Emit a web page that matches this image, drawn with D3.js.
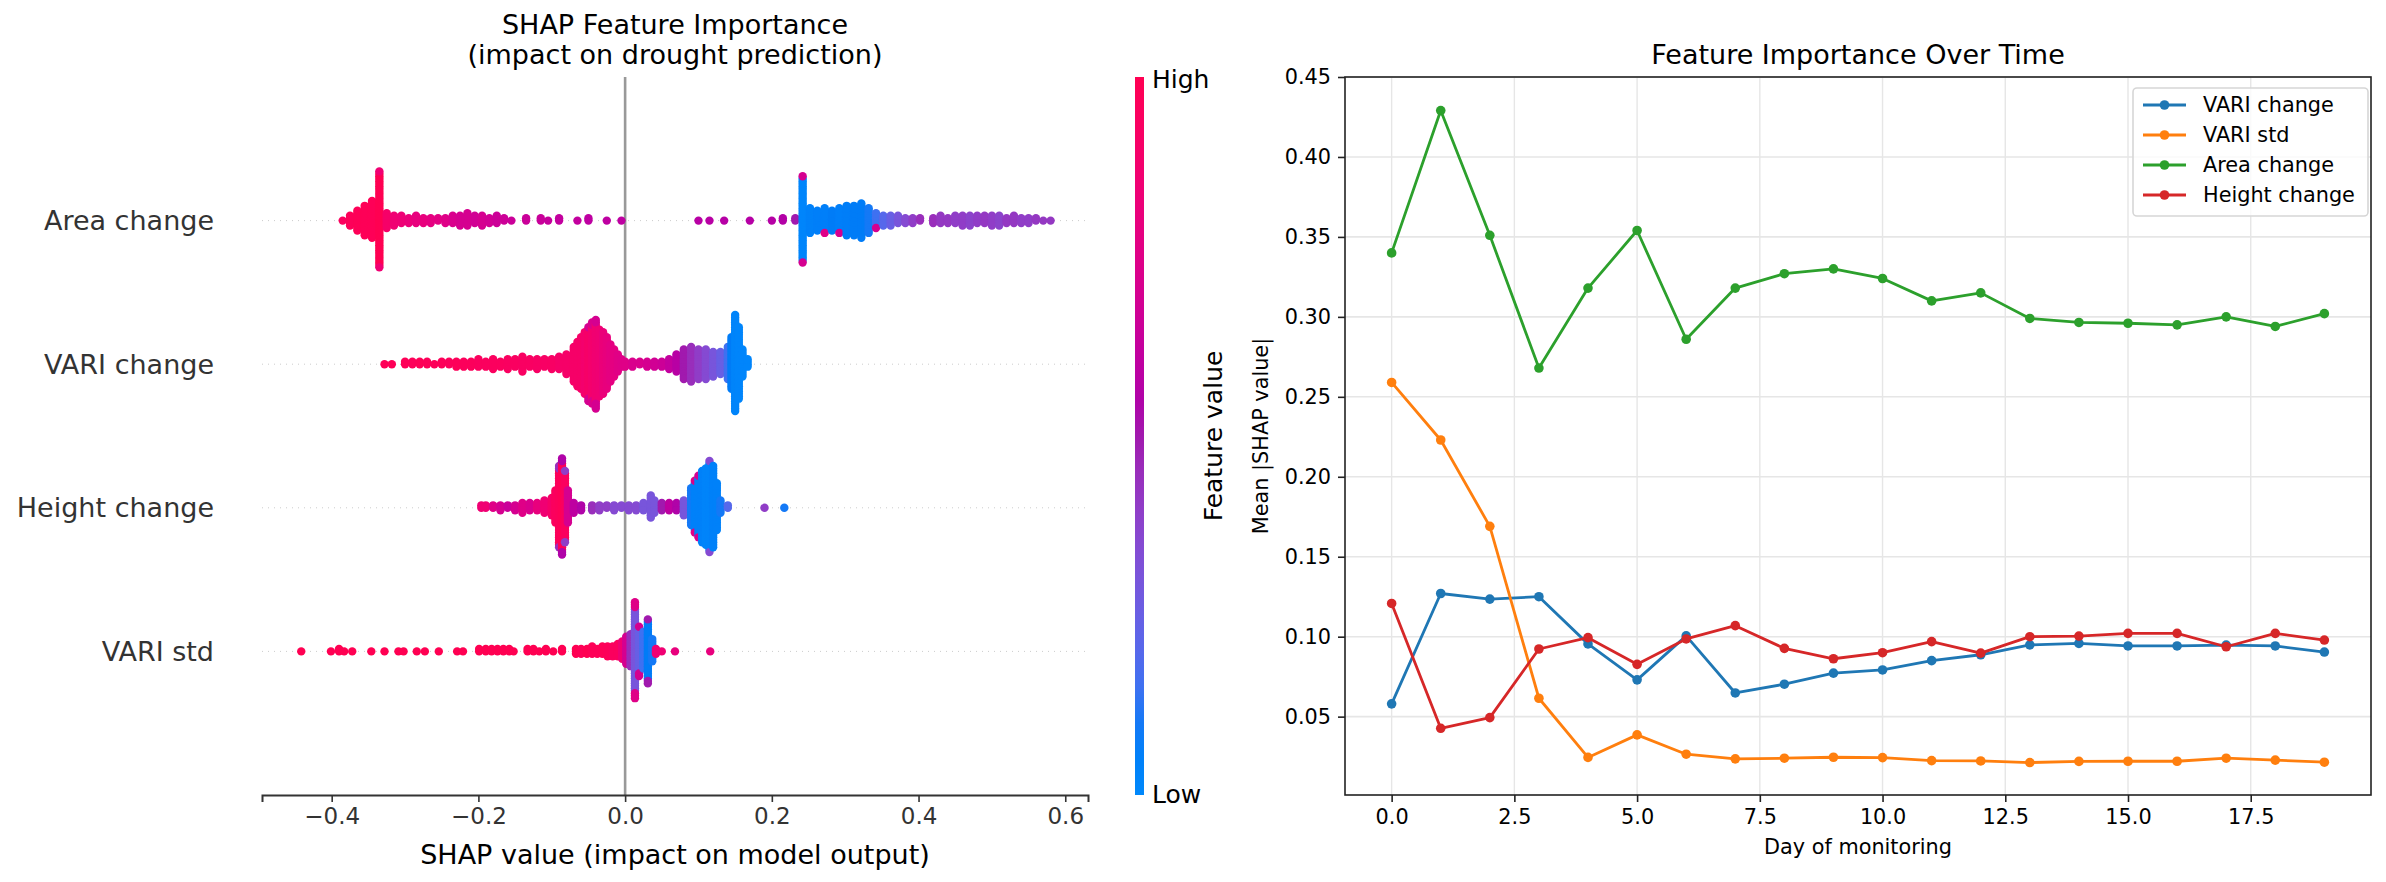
<!DOCTYPE html>
<html>
<head>
<meta charset="utf-8">
<script src="https://cdn.jsdelivr.net/npm/d3@7"></script>
<style>
  body { margin: 0; background: #fff; }
  svg text { font-family: "DejaVu Sans", sans-serif; }
</style>
</head>
<body>
<svg id="chart" width="2386" height="882"></svg>
<script>
// ---- left panel: SHAP beeswarm, each entry = [shap value, samples, feature value 0..1]
var featureNames = ["Area change", "VARI change", "Height change", "VARI std"];

var areaChangeShap = [
  [-0.385, 1, 0.95], [-0.375, 5, 0.97], [-0.365, 9, 0.98], [-0.355, 13, 0.98], [-0.345, 16, 0.98],
  [-0.335, 38, 1.0], [-0.335, 2, 0.85], [-0.325, 7, 0.9], [-0.315, 5, 0.85], [-0.305, 4, 0.84],
  [-0.295, 3, 0.82], [-0.285, 4, 0.8], [-0.275, 3, 0.8], [-0.265, 3, 0.78], [-0.255, 2, 0.77],
  [-0.245, 3, 0.75], [-0.235, 4, 0.72], [-0.225, 5, 0.7], [-0.215, 6, 0.7], [-0.205, 4, 0.68],
  [-0.195, 5, 0.7], [-0.185, 3, 0.68], [-0.175, 4, 0.66], [-0.165, 2, 0.66], [-0.155, 1, 0.65],
  [-0.135, 2, 0.65], [-0.115, 2, 0.64], [-0.105, 1, 0.63], [-0.09, 2, 0.62], [-0.065, 1, 0.62],
  [-0.05, 2, 0.6], [-0.025, 1, 0.6], [-0.005, 1, 0.6],
  [0.10, 1, 0.58], [0.115, 1, 0.58], [0.135, 1, 0.57], [0.17, 1, 0.57], [0.20, 1, 0.57],
  [0.215, 2, 0.56], [0.232, 2, 0.5], [0.242, 34, 0.02], [0.242, 2, 0.7], [0.252, 11, 0.05],
  [0.262, 9, 0.06], [0.272, 10, 0.06], [0.272, 1, 0.75], [0.282, 9, 0.08], [0.292, 10, 0.06],
  [0.292, 1, 0.7], [0.302, 13, 0.07], [0.312, 13, 0.08], [0.322, 15, 0.08], [0.332, 11, 0.1],
  [0.342, 6, 0.15], [0.342, 1, 0.7], [0.352, 5, 0.2], [0.362, 5, 0.25], [0.372, 4, 0.3],
  [0.382, 3, 0.35], [0.392, 3, 0.4], [0.402, 2, 0.45], [0.42, 3, 0.45], [0.43, 4, 0.42],
  [0.44, 3, 0.42], [0.45, 4, 0.4], [0.46, 5, 0.4], [0.47, 5, 0.38], [0.48, 4, 0.4],
  [0.49, 4, 0.42], [0.50, 5, 0.4], [0.51, 5, 0.38], [0.52, 3, 0.42], [0.53, 4, 0.42],
  [0.54, 3, 0.4], [0.55, 3, 0.4], [0.56, 2, 0.42], [0.57, 1, 0.42], [0.58, 1, 0.42]
];

var variChangeShap = [
  [-0.328, 1, 0.98], [-0.318, 1, 0.98], [-0.30, 2, 0.98], [-0.29, 2, 0.97], [-0.28, 2, 0.98],
  [-0.27, 2, 0.97], [-0.26, 1, 0.97], [-0.25, 2, 0.97], [-0.24, 2, 0.96], [-0.23, 3, 0.97],
  [-0.22, 3, 0.96], [-0.21, 3, 0.96], [-0.20, 4, 0.95], [-0.19, 3, 0.95], [-0.18, 5, 0.95],
  [-0.17, 3, 0.95], [-0.16, 5, 0.94], [-0.15, 4, 0.94], [-0.14, 7, 0.93], [-0.13, 4, 0.93],
  [-0.12, 5, 0.92], [-0.11, 4, 0.92], [-0.10, 5, 0.92], [-0.09, 6, 0.9], [-0.08, 9, 0.9],
  [-0.07, 15, 0.9], [-0.065, 19, 0.9], [-0.06, 22, 0.9], [-0.055, 26, 0.88], [-0.05, 28, 0.9],
  [-0.05, 3, 0.7], [-0.045, 30, 0.88], [-0.045, 4, 0.72], [-0.04, 32, 0.86], [-0.04, 5, 0.7],
  [-0.035, 28, 0.85], [-0.03, 26, 0.82], [-0.025, 22, 0.8], [-0.02, 16, 0.78], [-0.015, 12, 0.78],
  [-0.01, 8, 0.76], [-0.005, 4, 0.75], [0.0, 3, 0.75], [0.01, 3, 0.72], [0.02, 2, 0.72],
  [0.03, 3, 0.7], [0.04, 3, 0.68], [0.05, 3, 0.66], [0.06, 5, 0.62], [0.07, 8, 0.58],
  [0.08, 13, 0.5], [0.09, 15, 0.45], [0.10, 13, 0.4], [0.11, 13, 0.35], [0.12, 11, 0.3],
  [0.13, 10, 0.25], [0.14, 14, 0.15], [0.145, 22, 0.08], [0.15, 40, 0.03], [0.155, 30, 0.02],
  [0.16, 12, 0.02], [0.167, 4, 0.02]
];

var heightChangeShap = [
  [-0.196, 2, 0.85], [-0.19, 2, 0.85], [-0.18, 2, 0.75], [-0.17, 3, 0.7], [-0.16, 2, 0.65],
  [-0.15, 3, 0.7], [-0.14, 5, 0.75], [-0.13, 4, 0.72], [-0.12, 4, 0.8], [-0.11, 6, 0.85],
  [-0.10, 8, 0.9], [-0.095, 14, 0.95], [-0.09, 31, 0.96], [-0.09, 3, 0.45], [-0.086, 36, 0.98],
  [-0.086, 4, 0.55], [-0.082, 28, 0.95], [-0.082, 2, 0.4], [-0.078, 14, 0.7], [-0.07, 5, 0.6],
  [-0.06, 3, 0.55], [-0.045, 3, 0.45], [-0.035, 3, 0.4], [-0.025, 2, 0.4], [-0.015, 3, 0.35],
  [-0.005, 2, 0.35], [0.005, 3, 0.35], [0.015, 3, 0.35], [0.025, 4, 0.3], [0.035, 10, 0.3],
  [0.04, 6, 0.3], [0.05, 4, 0.5], [0.06, 4, 0.6], [0.07, 4, 0.55], [0.08, 7, 0.3],
  [0.09, 16, 0.1], [0.095, 20, 0.05], [0.095, 2, 0.75], [0.10, 24, 0.05], [0.10, 2, 0.7],
  [0.105, 30, 0.05], [0.11, 32, 0.03], [0.115, 36, 0.03], [0.115, 2, 0.35], [0.12, 34, 0.05],
  [0.125, 20, 0.05], [0.13, 6, 0.1], [0.14, 2, 0.2], [0.19, 1, 0.4], [0.217, 1, 0.1]
];

var variStdShap = [
  [-0.4415, 1, 1.0], [-0.401, 1, 1.0], [-0.39, 2, 1.0], [-0.383, 1, 1.0], [-0.372, 1, 1.0],
  [-0.346, 1, 1.0], [-0.328, 1, 1.0], [-0.309, 1, 1.0], [-0.302, 1, 1.0], [-0.284, 1, 1.0],
  [-0.273, 1, 1.0], [-0.254, 1, 1.0], [-0.229, 1, 1.0], [-0.221, 1, 1.0], [-0.199, 2, 1.0],
  [-0.19, 2, 1.0], [-0.182, 2, 1.0], [-0.174, 2, 1.0], [-0.166, 2, 1.0], [-0.158, 2, 1.0],
  [-0.152, 1, 1.0], [-0.133, 2, 1.0], [-0.125, 2, 1.0], [-0.117, 1, 1.0], [-0.108, 2, 1.0],
  [-0.098, 1, 1.0], [-0.086, 2, 1.0], [-0.067, 3, 1.0], [-0.06, 3, 0.98], [-0.052, 3, 1.0],
  [-0.045, 4, 0.98], [-0.038, 3, 0.98], [-0.031, 4, 0.98], [-0.024, 5, 0.97], [-0.017, 5, 0.95],
  [-0.01, 6, 0.95], [-0.004, 8, 0.85], [0.0015, 12, 0.7], [0.0075, 14, 0.45], [0.0134, 34, 0.3],
  [0.0134, 6, 0.75], [0.019, 18, 0.25], [0.019, 3, 0.7], [0.025, 16, 0.15], [0.031, 24, 0.08],
  [0.031, 3, 0.5], [0.037, 10, 0.1], [0.042, 3, 0.85], [0.05, 1, 0.85], [0.068, 1, 0.8],
  [0.116, 1, 0.8]
];

var shapRows = [areaChangeShap, variChangeShap, heightChangeShap, variStdShap];
var shapTicks = [-0.4, -0.2, 0.0, 0.2, 0.4, 0.6];

// ---- right panel: mean |SHAP| per day
var days = [0, 1, 2, 3, 4, 5, 6, 7, 8, 9, 10, 11, 12, 13, 14, 15, 16, 17, 18, 19];
var variChange = [0.058, 0.127, 0.1235, 0.125, 0.0955, 0.073, 0.1005, 0.0648, 0.0703, 0.0772,
  0.0792, 0.085, 0.0887, 0.0949, 0.0958, 0.0942, 0.0942, 0.0947, 0.0942, 0.0904];
var variStd = [0.259, 0.223, 0.169, 0.0615, 0.0245, 0.0386, 0.0265, 0.0236, 0.024, 0.0246,
  0.0244, 0.0225, 0.0223, 0.0213, 0.022, 0.0221, 0.0221, 0.024, 0.0228, 0.0215];
var areaChange = [0.340, 0.429, 0.351, 0.268, 0.318, 0.354, 0.286, 0.318, 0.327, 0.330,
  0.324, 0.310, 0.315, 0.299, 0.2965, 0.296, 0.295, 0.300, 0.294, 0.302];
var heightChange = [0.1208, 0.0427, 0.0494, 0.0923, 0.0994, 0.0827, 0.0986, 0.1069, 0.0927, 0.0862,
  0.090, 0.0969, 0.0897, 0.100, 0.1004, 0.1021, 0.1021, 0.0937, 0.1021, 0.0979];
var seriesNames = ["VARI change", "VARI std", "Area change", "Height change"];
var seriesColors = ["#1f77b4", "#ff7f0e", "#2ca02c", "#d62728"];
var dayTicks = [0, 2.5, 5, 7.5, 10, 12.5, 15, 17.5];
var importanceTicks = [0.05, 0.10, 0.15, 0.20, 0.25, 0.30, 0.35, 0.40, 0.45];

var svg = d3.select("#chart");

// shap red-blue colormap: lch, lightness dips to 40 in the middle
function shapColor(t) {
  var l = t < 0.5 ? 54 - 28 * t : 40 + 28 * (t - 0.5);
  return d3.hcl(266.93 + t * (380.32 - 266.93), 70 + t * 20, l).formatHex();
}

// ================= left panel =================
var x = d3.scaleLinear().domain([-0.495, 0.631]).range([262, 1088]);
var y = d3.scaleLinear().domain([-1, 4]).range([795, 77]);

// zero line
svg.append("line")
  .attr("x1", x(0)).attr("x2", x(0))
  .attr("y1", y(4)).attr("y2", y(-1))
  .attr("stroke", "#999999").attr("stroke-width", 2.6);

function swarm(entries, pos) {
  var pts = [];
  entries.forEach(function (e) {
    for (var i = 0; i < e[1]; i++) pts.push({ v: e[0], fv: e[2] });
  });
  var lo = d3.min(pts, d => d.v), hi = d3.max(pts, d => d.v);
  pts.forEach(function (p) { p.q = Math.round(100 * (p.v - lo) / (hi - lo + 1e-8)); });
  var sorted = pts.slice().sort((a, b) => a.q - b.q);
  var layer = 0, last = -1;
  sorted.forEach(function (p) {
    if (p.q !== last) layer = 0;
    p.ys = Math.ceil(layer / 2) * ((layer % 2) * 2 - 1);
    layer++;
    last = p.q;
  });
  var m = d3.max(pts, p => p.ys + 1);
  pts.forEach(function (p) { p.pos = pos + p.ys * 0.9 * 0.4 / m; });
  return pts;
}

shapRows.forEach(function (rows, i) {
  var pos = featureNames.length - 1 - i;
  svg.append("line")
    .attr("x1", 262).attr("x2", 1088)
    .attr("y1", y(pos)).attr("y2", y(pos))
    .attr("stroke", "#cccccc").attr("stroke-width", 1)
    .attr("stroke-dasharray", "1,5");

  svg.append("g").selectAll("circle")
    .data(swarm(rows, pos))
    .join("circle")
    .attr("cx", d => x(d.v))
    .attr("cy", d => y(d.pos))
    .attr("r", 4.2)
    .attr("fill", d => shapColor(d.fv));

  svg.append("text")
    .attr("x", 214).attr("y", y(pos))
    .attr("text-anchor", "end").attr("dominant-baseline", "central")
    .attr("font-size", 27).attr("fill", "#333333")
    .text(featureNames[i]);
});

var xAxis = svg.append("g")
  .attr("transform", "translate(0,795)")
  .call(d3.axisBottom(x).tickValues(shapTicks).tickSize(7).tickPadding(6)
    .tickFormat(d => d3.format(".1f")(d).replace("-", "\u2212")));
xAxis.select(".domain").attr("stroke", "#333333").attr("stroke-width", 2);
xAxis.selectAll(".tick line").attr("stroke", "#333333").attr("stroke-width", 1.6);
xAxis.selectAll(".tick text").attr("font-size", 23).attr("fill", "#333333")
  .attr("font-family", "DejaVu Sans");

svg.append("text")
  .attr("x", 675).attr("y", 864)
  .attr("text-anchor", "middle").attr("font-size", 27)
  .text("SHAP value (impact on model output)");

svg.append("text")
  .attr("x", 675).attr("y", 34)
  .attr("text-anchor", "middle").attr("font-size", 27)
  .text("SHAP Feature Importance");
svg.append("text")
  .attr("x", 675).attr("y", 64)
  .attr("text-anchor", "middle").attr("font-size", 27)
  .text("(impact on drought prediction)");

// colorbar
var grad = svg.append("defs").append("linearGradient")
  .attr("id", "shapGrad").attr("x1", 0).attr("x2", 0).attr("y1", 1).attr("y2", 0);
d3.range(0, 1.0001, 0.05).forEach(function (t) {
  grad.append("stop").attr("offset", t).attr("stop-color", shapColor(t));
});
svg.append("rect")
  .attr("x", 1135).attr("y", 77).attr("width", 9).attr("height", 718)
  .attr("fill", "url(#shapGrad)");
svg.append("text").attr("x", 1152).attr("y", 79)
  .attr("dominant-baseline", "central").attr("font-size", 25).text("High");
svg.append("text").attr("x", 1152).attr("y", 794)
  .attr("dominant-baseline", "central").attr("font-size", 25).text("Low");
svg.append("text")
  .attr("transform", "translate(1213,436) rotate(-90)")
  .attr("text-anchor", "middle").attr("dominant-baseline", "central")
  .attr("font-size", 25).text("Feature value");

// ================= right panel =================
var xr = d3.scaleLinear().domain([-0.95, 19.95]).range([1345, 2371]);
var yr = d3.scaleLinear().domain([0.001, 0.45]).range([795, 77]);

var grid = svg.append("g");
grid.selectAll(".gx").data(dayTicks).join("line")
  .attr("x1", d => xr(d)).attr("x2", d => xr(d))
  .attr("y1", 77).attr("y2", 795)
  .attr("stroke", "#e6e6e6").attr("stroke-width", 1.4);
grid.selectAll(".gy").data(importanceTicks).join("line")
  .attr("x1", 1345).attr("x2", 2371)
  .attr("y1", d => yr(d)).attr("y2", d => yr(d))
  .attr("stroke", "#e6e6e6").attr("stroke-width", 1.6);

var allSeries = [variChange, variStd, areaChange, heightChange];
var line = d3.line().x((d, i) => xr(days[i])).y(d => yr(d));
allSeries.forEach(function (s, k) {
  var g = svg.append("g");
  g.append("path").datum(s)
    .attr("d", line).attr("fill", "none")
    .attr("stroke", seriesColors[k]).attr("stroke-width", 2.8)
    .attr("stroke-linejoin", "round");
  g.selectAll("circle").data(s).join("circle")
    .attr("cx", (d, i) => xr(days[i])).attr("cy", d => yr(d))
    .attr("r", 4.8).attr("fill", seriesColors[k]);
});

svg.append("rect")
  .attr("x", 1345).attr("y", 77).attr("width", 1026).attr("height", 718)
  .attr("fill", "none").attr("stroke", "#222").attr("stroke-width", 1.6);

var xrAxis = svg.append("g").attr("transform", "translate(0,795)")
  .call(d3.axisBottom(xr).tickValues(dayTicks).tickSize(7).tickPadding(7).tickFormat(d3.format(".1f")));
var yrAxis = svg.append("g").attr("transform", "translate(1345,0)")
  .call(d3.axisLeft(yr).tickValues(importanceTicks).tickSize(7).tickPadding(7).tickFormat(d3.format(".2f")));
[xrAxis, yrAxis].forEach(function (a) {
  a.select(".domain").remove();
  a.selectAll(".tick line").attr("stroke", "#222").attr("stroke-width", 1.6);
  a.selectAll(".tick text").attr("font-size", 20.8).attr("fill", "#000")
    .attr("font-family", "DejaVu Sans");
});

svg.append("text")
  .attr("x", 1858).attr("y", 64)
  .attr("text-anchor", "middle").attr("font-size", 27)
  .text("Feature Importance Over Time");
svg.append("text")
  .attr("x", 1858).attr("y", 854)
  .attr("text-anchor", "middle").attr("font-size", 20.8)
  .text("Day of monitoring");
svg.append("text")
  .attr("transform", "translate(1261,436) rotate(-90)")
  .attr("text-anchor", "middle").attr("dominant-baseline", "central")
  .attr("font-size", 20.8).text("Mean |SHAP value|");

// legend
var legend = svg.append("g");
legend.append("rect")
  .attr("x", 2133).attr("y", 88).attr("width", 235).attr("height", 128)
  .attr("rx", 4).attr("fill", "#fff").attr("fill-opacity", 0.8)
  .attr("stroke", "#d6d6d6").attr("stroke-width", 1.6);
seriesNames.forEach(function (name, k) {
  var ly = 105 + k * 30;
  legend.append("line").attr("x1", 2143).attr("x2", 2186)
    .attr("y1", ly).attr("y2", ly)
    .attr("stroke", seriesColors[k]).attr("stroke-width", 2.8);
  legend.append("circle").attr("cx", 2164.5).attr("cy", ly).attr("r", 4.8)
    .attr("fill", seriesColors[k]);
  legend.append("text").attr("x", 2203).attr("y", ly)
    .attr("dominant-baseline", "central").attr("font-size", 20.8)
    .text(name);
});
</script>
</body>
</html>
